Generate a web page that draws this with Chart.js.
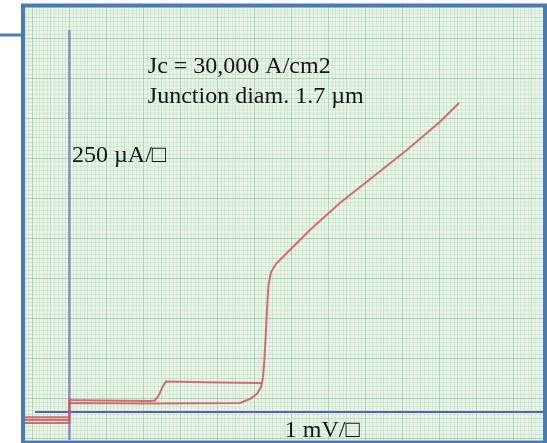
<!DOCTYPE html>
<html>
<head>
<meta charset="utf-8">
<script src="https://cdn.jsdelivr.net/npm/chart.js@4.4.1/dist/chart.umd.min.js"></script>
<style>
  html, body { margin: 0; padding: 0; background: #fff; }
  #ivChart { display: block; }
</style>
</head>
<body>
<canvas id="ivChart" width="547" height="443"></canvas>
<script>
// Josephson junction I-V trace, x in mV, y in µA
const forwardMv = [-1.5, 0, 0, 2.18, 4.61, 4.88, 5.07, 5.18, 5.23, 5.27, 5.30, 5.34, 5.38, 5.45, 5.58, 5.77, 5.96, 6.50, 7.31, 8.20, 9.12, 10.01, 10.53];
const forwardUa = [-50, -50, 56, 53, 56, 81, 113, 156, 213, 325, 450, 638, 794, 875, 925, 969, 1013, 1138, 1306, 1469, 1638, 1813, 1931];

const returnMv = [5.20, 4.07, 2.61, 2.53, 2.42, 2.31, 2.18, 0.82, 0.04, 0, 0, -1.5];
const returnUa = [181, 184, 191, 163, 106, 72, 69, 72, 75, 81, -69, -69];

const offsetMv = [-1.5, 0];
const offsetUa = [-33, -33];

// axis ranges and graph paper
const xMin = -1.2, xMax = 12.8;
const yMin = -175, yMax = 2531.25;
const yGridOrigin = 87.5;   // a heavy (1 cm) line of the paper, in µA
const mvPerSquare = 1, uaPerSquare = 250;

const labels = [
  { text: "Jc = 30,000 A/cm2", x: 2.12, y: 2119 },
  { text: "Junction diam. 1.7 µm", x: 2.12, y: 1931 },
  { text: "250 µA/\u25A1", x: 0.07, y: 1563 },
  { text: "1 mV/\u25A1", x: 5.82, y: -156 }
];

const toPoints = (xs, ys) => xs.map((x, i) => ({ x: x, y: ys[i] }));

const traceColor = "rgba(206, 86, 98, 0.85)";

const buildGrid = (start, end, step) => {
  const ticks = [];
  for (let v = start; v <= end + 1e-9; v += step) ticks.push({ value: +v.toFixed(4) });
  return ticks;
};

const gridColor = (origin, square) => (ctx) => {
  const n = Math.round((ctx.tick.value - origin) / (square / 10));
  if (n % 10 === 0) return "rgba(125, 185, 150, 0.55)";
  if (n % 5 === 0) return "rgba(150, 200, 170, 0.42)";
  return "rgba(185, 218, 192, 0.4)";
};

const paperPlugin = {
  id: "paper",
  beforeDraw(chart) {
    const { ctx, chartArea: a } = chart;
    ctx.save();
    ctx.fillStyle = "#ffffff";
    ctx.fillRect(0, 0, chart.width, chart.height);
    ctx.fillStyle = "#e8f4e5";
    ctx.fillRect(a.left, a.top, a.right - a.left, a.bottom - a.top);
    ctx.restore();
  },
  afterDraw(chart) {
    const { ctx, chartArea: a, scales } = chart;
    ctx.save();
    // text written on the sheet
    ctx.fillStyle = "#151515";
    ctx.font = '24px "Liberation Serif", "Times New Roman", serif';
    ctx.textBaseline = "alphabetic";
    labels.forEach((l) => {
      ctx.fillText(l.text, scales.x.getPixelForValue(l.x), scales.y.getPixelForValue(l.y));
    });
    // slide frame
    ctx.strokeStyle = "#4b7bb3";
    ctx.lineWidth = 4;
    ctx.strokeRect(a.left - 2, a.top - 1.5, a.right - a.left + 4, a.bottom - a.top + 4);
    ctx.lineWidth = 3;
    ctx.beginPath();
    ctx.moveTo(0, 35);
    ctx.lineTo(a.left - 2, 35);
    ctx.stroke();
    ctx.restore();
  }
};

const ctx = document.getElementById("ivChart").getContext("2d");

window.ivChart = new Chart(ctx, {
  type: "scatter",
  data: {
    datasets: [
      { label: "forward", data: toPoints(forwardMv, forwardUa), borderColor: traceColor },
      { label: "return", data: toPoints(returnMv, returnUa), borderColor: traceColor },
      { label: "offset", data: toPoints(offsetMv, offsetUa), borderColor: traceColor },
      { label: "I axis", data: [{ x: 0, y: 2387 }, { x: 0, y: yMin }], borderColor: "#8a8cc2", borderWidth: 2.5 },
      { label: "V axis", data: [{ x: -0.93, y: 0 }, { x: xMax, y: 0 }], borderColor: "#5a5fae", borderWidth: 2 }
    ]
  },
  options: {
    responsive: false,
    animation: false,
    showLine: true,
    layout: { padding: { left: 25, right: 4, top: 7, bottom: 3 } },
    elements: {
      point: { radius: 0, hoverRadius: 0 },
      line: { borderWidth: 2, tension: 0, fill: false }
    },
    plugins: {
      legend: { display: false },
      tooltip: { enabled: false }
    },
    scales: {
      x: {
        type: "linear",
        min: xMin,
        max: xMax,
        border: { display: false },
        ticks: { display: false, autoSkip: false },
        grid: { drawTicks: false, lineWidth: 1, color: gridColor(0, mvPerSquare) },
        afterBuildTicks: (axis) => { axis.ticks = buildGrid(-1.2, xMax, mvPerSquare / 10); },
        afterFit: (axis) => { axis.height = 0; }
      },
      y: {
        type: "linear",
        min: yMin,
        max: yMax,
        border: { display: false },
        ticks: { display: false, autoSkip: false },
        grid: { drawTicks: false, lineWidth: 1, color: gridColor(yGridOrigin, uaPerSquare) },
        afterBuildTicks: (axis) => { axis.ticks = buildGrid(yGridOrigin - 250, yMax, uaPerSquare / 10); },
        afterFit: (axis) => { axis.width = 0; }
      }
    }
  },
  plugins: [paperPlugin]
});
</script>
</body>
</html>
